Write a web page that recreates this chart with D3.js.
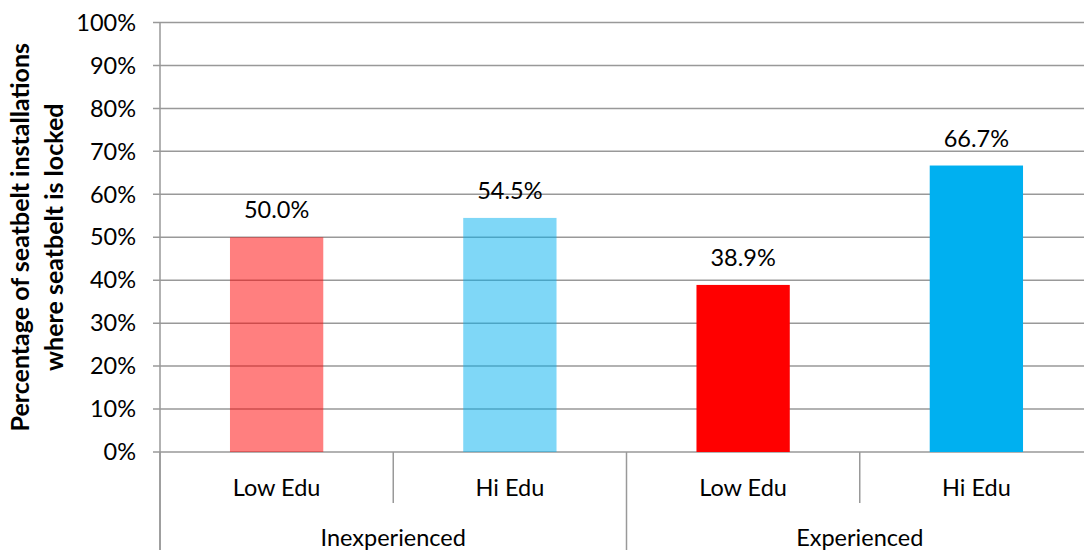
<!DOCTYPE html>
<html><head><meta charset="utf-8">
<script src="https://cdn.jsdelivr.net/npm/d3@7"></script>
<style>html,body{margin:0;padding:0;background:#fff;overflow:hidden}</style>
</head><body>
<svg id="c" width="1084" height="550"></svg>
<script>
const groups = ["Inexperienced", "Experienced"];
const subCategories = ["Low Edu", "Hi Edu", "Low Edu", "Hi Edu"];
const groupOfBar = [0, 0, 1, 1];
const values = [50.0, 54.5, 38.9, 66.7];
const barColors = ["#FF0000", "#00B0F0", "#FF0000", "#00B0F0"];
const barOpacity = [0.5, 0.5, 1, 1];
const yTicks = [0,10,20,30,40,50,60,70,80,90,100];
const yTitle = ["Percentage of seatbelt installations", "where seatbelt is locked"];

(function(){
const FONT = "Lato, 'Open Sans', sans-serif";
const FS = 23.5;
const svg = d3.select("#c");
const pLeft = 160, pRight = 1093, pTop = 22.5, pBottom = 452;
const x = d3.scaleBand().domain(d3.range(values.length)).range([pLeft, pRight]).padding(0);
const y = d3.scaleLinear().domain([0, 100]).range([pBottom, pTop]);
const grid = "#999";

svg.append("g").selectAll("line").data(yTicks).join("line")
  .attr("x1", pLeft - 7).attr("x2", 1084)
  .attr("y1", d => y(d)).attr("y2", d => y(d))
  .attr("stroke", grid).attr("stroke-width", 1.5);

svg.append("g").selectAll("text").data(yTicks).join("text")
  .attr("x", 136).attr("y", d => y(d)).attr("dy", "0.35em")
  .attr("text-anchor", "end").attr("font-family", FONT).attr("font-size", FS)
  .attr("fill", "#000").text(d => d + "%");

svg.append("g").selectAll("rect").data(values).join("rect")
  .attr("x", (d, i) => x(i) + x.bandwidth() * 0.3)
  .attr("width", x.bandwidth() * 0.4)
  .attr("y", d => y(d)).attr("height", d => y(0) - y(d))
  .attr("fill", (d, i) => barColors[i]).attr("fill-opacity", (d, i) => barOpacity[i]);

svg.append("g").selectAll("text").data(values).join("text")
  .attr("x", (d, i) => x(i) + x.bandwidth() / 2)
  .attr("y", d => y(d) - 27).attr("dy", "0.35em")
  .attr("text-anchor", "middle").attr("font-family", FONT).attr("font-size", FS)
  .text(d => d.toFixed(1) + "%");

svg.append("line").attr("x1", pLeft).attr("x2", pLeft).attr("y1", pTop).attr("y2", 550)
  .attr("stroke", grid).attr("stroke-width", 1.5);

const sepX = d3.range(values.length + 1);
svg.append("g").selectAll("line").data(sepX).join("line")
  .attr("x1", i => i < values.length ? x(i) : pRight)
  .attr("x2", i => i < values.length ? x(i) : pRight)
  .attr("y1", pBottom)
  .attr("y2", i => (i === 0 || i === values.length || groupOfBar[i] !== groupOfBar[i - 1]) ? 550 : 503)
  .attr("stroke", grid).attr("stroke-width", 1.5);

svg.append("g").selectAll("text").data(subCategories).join("text")
  .attr("x", (d, i) => x(i) + x.bandwidth() / 2).attr("y", 488).attr("dy", "0.35em")
  .attr("text-anchor", "middle").attr("font-family", FONT).attr("font-size", FS)
  .text(d => d);

svg.append("g").selectAll("text").data(groups).join("text")
  .attr("x", (g, gi) => {
    const idx = d3.range(values.length).filter(i => groupOfBar[i] === gi);
    return (x(idx[0]) + x(idx[idx.length - 1]) + x.bandwidth()) / 2;
  })
  .attr("y", 538).attr("dy", "0.35em")
  .attr("text-anchor", "middle").attr("font-family", FONT).attr("font-size", FS)
  .text(d => d);

const yt = svg.append("text").attr("transform", `translate(38, ${(pTop + pBottom) / 2}) rotate(-90)`)
  .attr("text-anchor", "middle").attr("font-family", FONT).attr("font-size", 25).attr("font-weight", "bold");
yTitle.forEach((t, i) => yt.append("tspan").attr("x", 0).attr("y", (i - 0.5) * 34).attr("dy", "0.32em").text(t));
})();
</script>
</body></html>
